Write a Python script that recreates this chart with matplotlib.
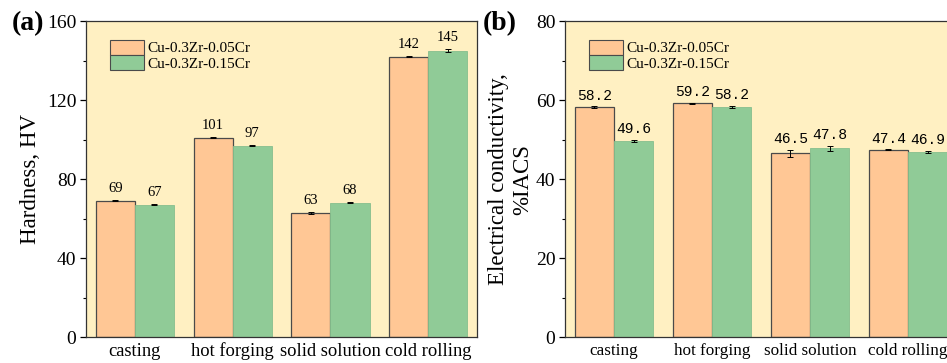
import matplotlib
matplotlib.use("Agg")
import matplotlib.pyplot as plt
import numpy as np

# data
stages = ["casting", "hot forging", "solid solution", "cold rolling"]
alloys = ["Cu-0.3Zr-0.05Cr", "Cu-0.3Zr-0.15Cr"]

hv_005 = [69, 101, 63, 142]
hv_015 = [67, 97, 68, 145]
hv_005_err = [0.3, 0.3, 0.5, 0.3]
hv_015_err = [0.2, 0.3, 0.3, 0.8]

ec_005 = [58.2, 59.2, 46.5, 47.4]
ec_015 = [49.6, 58.2, 47.8, 46.9]
ec_005_err = [0.2, 0.2, 0.8, 0.1]
ec_015_err = [0.2, 0.3, 0.6, 0.2]

plt.rcParams['font.family'] = ['Liberation Serif', 'DejaVu Serif']

bg = '#FFF0C2'
orange = '#FFC795'
green = '#90CB97'

fig = plt.figure(figsize=(9.47, 3.63), dpi=100)
ax1 = fig.add_axes([0.0908, 0.0716, 0.413, 0.870])
ax2 = fig.add_axes([0.5966, 0.0716, 0.414, 0.870])


def draw_panel(ax, a, b, a_err, b_err, ymax, major, minor, fmt, label_font, off, xsize):
    x = np.arange(len(stages))
    w = 0.4
    ax.set_facecolor(bg)
    ax.bar(x - w / 2, a, w, yerr=a_err, color=orange, edgecolor='#4a4a4a',
           linewidth=0.9, capsize=2.5, error_kw=dict(elinewidth=0.7, capthick=0.7),
           label=alloys[0], zorder=2)
    ax.bar(x + w / 2, b, w, yerr=b_err, color=green, edgecolor='#86bf8d',
           linewidth=0.6, capsize=2.5, error_kw=dict(elinewidth=0.7, capthick=0.7),
           label=alloys[1], zorder=2)
    for xi, v, e in zip(x - w / 2, a, a_err):
        ax.text(xi, v + e + off, fmt(v), ha='center', va='bottom',
                fontsize=10.5, family=label_font)
    for xi, v, e in zip(x + w / 2, b, b_err):
        ax.text(xi, v + e + off, fmt(v), ha='center', va='bottom',
                fontsize=10.5, family=label_font)
    ax.set_xlim(-0.5, 3.5)
    ax.set_ylim(0, ymax)
    ax.set_xticks(x)
    ax.set_xticklabels(stages, fontsize=xsize)
    ax.set_yticks(np.arange(0, ymax + 1, major))
    ax.set_yticks(np.arange(minor, ymax, major), minor=True)
    ax.tick_params(axis='y', which='major', labelsize=14, length=4, width=0.9,
                   direction='out', pad=3)
    ax.tick_params(axis='y', which='minor', length=2.5, width=0.8, direction='out')
    ax.tick_params(axis='x', length=0, pad=4)
    for s in ax.spines.values():
        s.set_color('#333333')
        s.set_linewidth(0.9)
    leg = ax.legend(loc='upper left', bbox_to_anchor=(0.043, 0.965), frameon=False,
                    fontsize=11, handlelength=2.2, handleheight=1.1, labelspacing=0,
                    borderpad=0, handletextpad=0.2)
    for h in leg.legend_handles:
        h.set_edgecolor('#4a4a4a')
        h.set_linewidth(0.8)


draw_panel(ax1, hv_005, hv_015, hv_005_err, hv_015_err, 160, 40, 20,
           lambda v: f"{v:d}", ['Liberation Serif'], 2.5, 13.3)
draw_panel(ax2, ec_005, ec_015, ec_005_err, ec_015_err, 80, 20, 10,
           lambda v: f"{v:.1f}", ['Liberation Mono'], 1.0, 12.3)

ax1.set_ylabel("Hardness, HV", fontsize=16.5, labelpad=4)
ax2.set_ylabel("Electrical conductivity,\n%IACS", fontsize=16.5, labelpad=2,
               linespacing=1.15)

fig.text(0.012, 0.935, "(a)", fontsize=20, fontweight='bold', va='center')
fig.text(0.510, 0.935, "(b)", fontsize=20, fontweight='bold', va='center')

fig.savefig("out.png", dpi=100, facecolor='white')
